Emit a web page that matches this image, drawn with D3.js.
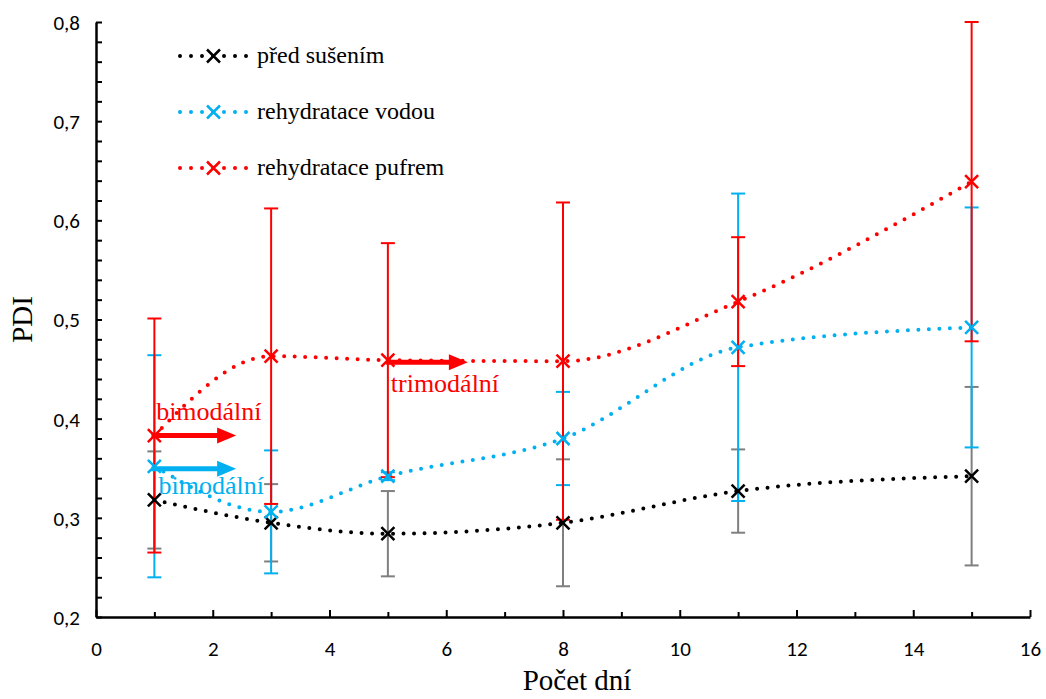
<!DOCTYPE html>
<html>
<head>
<meta charset="utf-8">
<script src="https://cdn.jsdelivr.net/npm/d3@7"></script>
<style>
  html, body { margin: 0; padding: 0; background: #ffffff; }
  svg { display: block; }
</style>
</head>
<body>
<svg id="chart" width="1046" height="699"></svg>
<script>
// ---- data ----
const days = [1, 3, 5, 8, 11, 15];
const seriesNames = ["před sušením", "rehydratace vodou", "rehydratace pufrem"];
const predSusenim = [0.318, 0.295, 0.284, 0.295, 0.327, 0.342];
const predSusenimErr = [0.049, 0.039, 0.043, 0.064, 0.042, 0.090];
const vodou = [0.352, 0.306, 0.342, 0.380, 0.472, 0.492];
const vodouErr = [0.112, 0.062, 0.004, 0.047, 0.155, 0.121];
const pufrem = [0.383, 0.463, 0.459, 0.458, 0.518, 0.639];
const pufremErr = [0.118, 0.149, 0.118, 0.160, 0.065, 0.161];
const xTicks = [0, 2, 4, 6, 8, 10, 12, 14, 16];
const yTicks = [0.2, 0.3, 0.4, 0.5, 0.6, 0.7, 0.8];
const annotations = [
  { text: "bimodální", x0: 0.95, x1: 2.4, y: 0.383, s: 2, tx: 1.03, ty: 0.3985 },
  { text: "bimodální", x0: 0.95, x1: 2.4, y: 0.3495, s: 1, tx: 1.07, ty: 0.3245 },
  { text: "trimodální", x0: 4.97, x1: 6.37, y: 0.457, s: 2, tx: 5.05, ty: 0.4265 }
];

const colors = ["#000000", "#00b0f0", "#ff0000"];
const errColors = ["#7f7f7f", "#00b0f0", "#ff0000"];

const svg = d3.select("#chart");
const mL = 96, mR = 1030, mT = 22, mB = 617;
const x = d3.scaleLinear().domain([0, 16]).range([mL, mR]);
const y = d3.scaleLinear().domain([0.2, 0.8]).range([mB, mT]);

const data = [
  { v: predSusenim, e: predSusenimErr },
  { v: vodou, e: vodouErr },
  { v: pufrem, e: pufremErr }
];

const tickFont = "Carlito, 'Liberation Sans Narrow', 'Open Sans', sans-serif";
const serif = "'Liberation Serif', 'Times New Roman', serif";

// ---- axes ----
const xMinor = d3.range(1, 16, 2);
const yMinor = d3.range(0.2, 0.8001, 0.02).filter(v => Math.abs(v * 10 - Math.round(v * 10)) > 1e-6);

const axisG = svg.append("g");
const xAxis = axisG.append("g").attr("transform", `translate(0,${mB})`)
  .call(d3.axisBottom(x).tickValues(xTicks).tickSizeInner(-7).tickSizeOuter(0).tickFormat(d3.format("d")));
xAxis.select(".domain").attr("stroke", "#000").attr("stroke-width", 2.5);
xAxis.selectAll(".tick line").attr("stroke", "#000").attr("stroke-width", 2);
xAxis.selectAll(".tick text").attr("dy", null).attr("y", 39)
  .attr("font-family", tickFont).attr("font-size", 21).attr("fill", "#000");
axisG.append("g").attr("transform", `translate(0,${mB})`)
  .call(d3.axisBottom(x).tickValues(xMinor).tickSizeInner(-5).tickSizeOuter(0).tickFormat(""))
  .call(g => g.select(".domain").remove())
  .selectAll(".tick line").attr("stroke", "#000").attr("stroke-width", 2);

const yAxis = axisG.append("g").attr("transform", `translate(${mL},0)`)
  .call(d3.axisLeft(y).tickValues(yTicks).tickSizeInner(-6).tickSizeOuter(0)
    .tickFormat(d => d3.format(".1f")(d).replace(".", ",")));
yAxis.select(".domain").attr("stroke", "#000").attr("stroke-width", 2.5);
yAxis.selectAll(".tick line").attr("stroke", "#000").attr("stroke-width", 2);
yAxis.selectAll(".tick text").attr("x", -16).attr("dy", "0.35em")
  .attr("font-family", tickFont).attr("font-size", 21).attr("fill", "#000");
axisG.append("g").attr("transform", `translate(${mL},0)`)
  .call(d3.axisLeft(y).tickValues(yMinor).tickSizeInner(-6).tickSizeOuter(0).tickFormat(""))
  .call(g => g.select(".domain").remove())
  .selectAll(".tick line").attr("stroke", "#000").attr("stroke-width", 2);

svg.append("text").attr("x", 577).attr("y", 690)
  .attr("text-anchor", "middle").attr("font-family", serif)
  .attr("font-size", 29).attr("fill", "#000").text("Počet dní");
svg.append("text").attr("transform", `translate(32,${(mT + mB) / 2}) rotate(-90)`)
  .attr("text-anchor", "middle").attr("font-family", serif)
  .attr("font-size", 29).attr("fill", "#000").text("PDI");

// ---- lines ----
const line = d3.line().x((d, i) => x(days[i])).y(d => y(d)).curve(d3.curveMonotoneX);
const plotG = svg.append("g");
data.forEach((s, si) => {
  plotG.append("path").datum(s.v).attr("d", line)
    .attr("fill", "none").attr("stroke", colors[si]).attr("stroke-width", 4)
    .attr("stroke-linecap", "round").attr("stroke-dasharray", "0 10.5");
});

// ---- error bars ----
data.forEach((s, si) => {
  const g = plotG.append("g");
  s.v.forEach((v, i) => {
    const cx = x(days[i]);
    const y0 = y(v - s.e[i]), y1 = y(v + s.e[i]);
    g.append("line").attr("x1", cx).attr("x2", cx).attr("y1", y0).attr("y2", y1)
      .attr("stroke", errColors[si]).attr("stroke-width", 2);
    [y0, y1].forEach(yy => g.append("line").attr("x1", cx - 7).attr("x2", cx + 7).attr("y1", yy).attr("y2", yy)
      .attr("stroke", errColors[si]).attr("stroke-width", 2));
  });
});

// ---- markers ----
function cross(g, cx, cy, color, r) {
  g.append("path").attr("d", `M${cx - r},${cy - r}L${cx + r},${cy + r}M${cx - r},${cy + r}L${cx + r},${cy - r}`)
    .attr("stroke", color).attr("stroke-width", 2.5).attr("fill", "none");
}
data.forEach((s, si) => {
  s.v.forEach((v, i) => cross(plotG, x(days[i]), y(v), colors[si], 6.5));
});

// ---- annotations ----
const annG = svg.append("g");
annotations.forEach(a => {
  const c = colors[a.s];
  const xs = x(a.x0), xe = x(a.x1), yy = y(a.y);
  annG.append("line").attr("x1", xs).attr("x2", xe - 18).attr("y1", yy).attr("y2", yy)
    .attr("stroke", c).attr("stroke-width", 5);
  annG.append("path").attr("d", `M${xe - 19},${yy - 8}L${xe},${yy}L${xe - 19},${yy + 8}Z`).attr("fill", c);
  annG.append("text").attr("x", x(a.tx)).attr("y", y(a.ty))
    .attr("font-family", serif).attr("font-size", 26)
    .attr("fill", c).text(a.text);
});

// ---- legend ----
const legG = svg.append("g");
const legY = [56, 112, 168];
seriesNames.forEach((name, si) => {
  const ly = legY[si];
  legG.append("line").attr("x1", 180).attr("x2", 247).attr("y1", ly).attr("y2", ly)
    .attr("stroke", colors[si]).attr("stroke-width", 4).attr("stroke-linecap", "round").attr("stroke-dasharray", "0 11");
  cross(legG, 213.5, ly, colors[si], 6.5);
  legG.append("text").attr("x", 257).attr("y", ly + 7)
    .attr("font-family", serif).attr("font-size", 24)
    .attr("fill", "#000").text(name);
});
</script>
</body>
</html>
